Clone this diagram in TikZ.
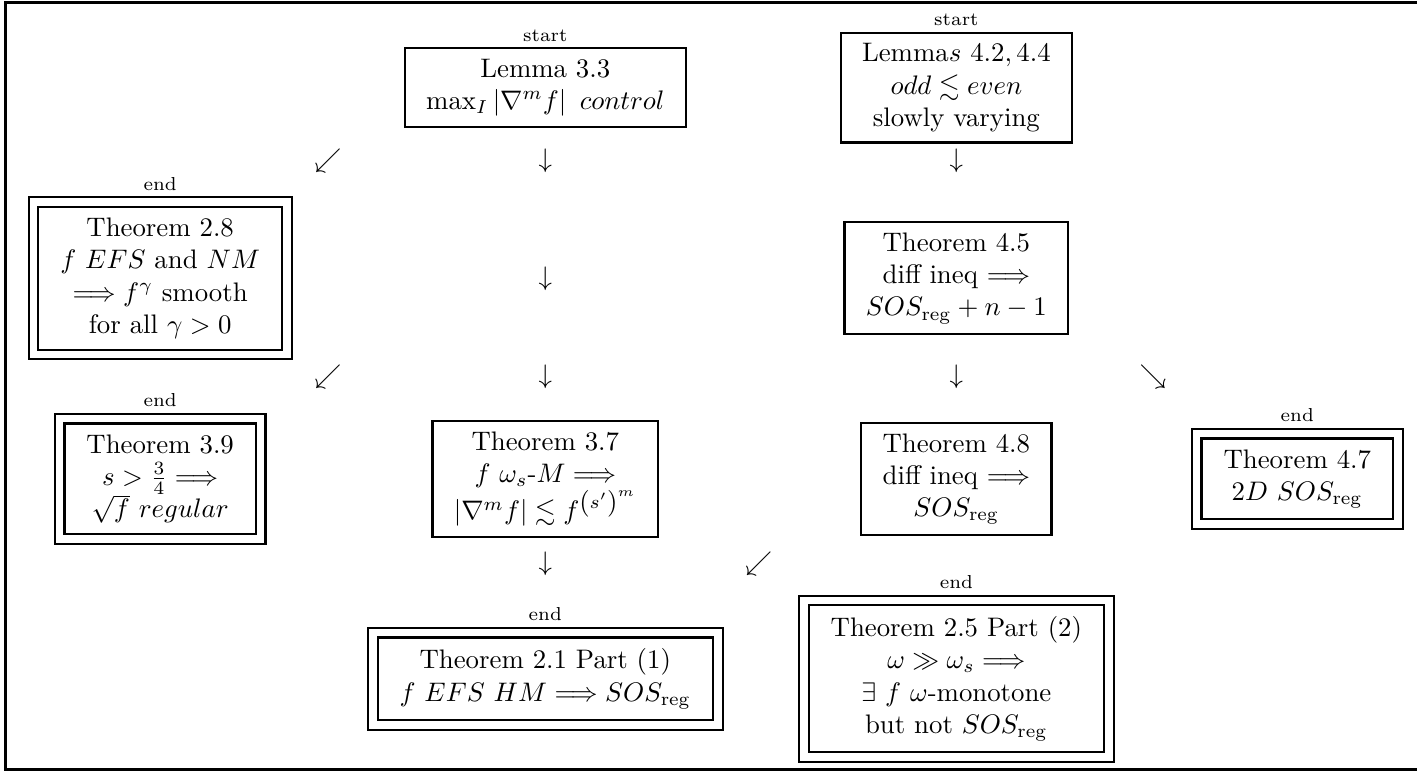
\documentclass[tikz,border=0pt]{standalone}
\usepackage{amsmath,amssymb}
\usetikzlibrary{positioning}

\begin{document}
\begin{tikzpicture}[
    result/.style={rectangle, draw=black, line width=0.8pt, align=center,
                 inner xsep=8pt, inner ysep=4pt},
    endresult/.style={rectangle, draw=black, line width=0.8pt, double,
                 double distance=2.8pt, outer sep=2.2pt, align=center,
                 inner xsep=10pt, inner ysep=6pt},
    tag/.style={font=\scriptsize, inner sep=1pt},
    glyph/.style={inner sep=0pt}
]
\useasboundingbox (0,0) rectangle (18.58,-10.11);
% frame, cut off at the right
\draw[line width=1.1pt] (18.8,-0.035) -- (0.07,-0.035) -- (0.07,-10.09) -- (18.8,-10.09);

% left branch
\node[result] (lem33) at (7.15,-1.15) {Lemma 3.3\\ $\max_I|\nabla^m f|\ \,control$};
\node[tag, above=1pt of lem33] (lem33tag) {start};
\node[endresult] (thm28) at (2.10,-3.65) {Theorem 2.8\\ $f$ $EFS$ and $NM$\\ $\Longrightarrow f^\gamma$ smooth\\ for all $\gamma>0$};
\node[tag, above=1pt of thm28] (thm28tag) {end};
\node[endresult] (thm39) at (2.10,-6.28) {Theorem 3.9\\ $s>\frac34\Longrightarrow$\\ $\sqrt f$ $regular$};
\node[tag, above=1pt of thm39] (thm39tag) {end};
\node[result] (thm37) at (7.15,-6.28) {Theorem 3.7\\ $f$ $\omega_s$-$M\Longrightarrow$\\ $|\nabla^m f|\lesssim f^{\left(s'\right)^m}$};
\node[endresult] (thm21) at (7.15,-8.90) {Theorem 2.1 Part (1)\\ $f$ $EFS$ $HM\Longrightarrow SOS_{\mathrm{reg}}$};
\node[tag, above=1pt of thm21] (thm21tag) {end};

% right branch
\node[result] (lem42) at (12.54,-1.15) {Lemma$s$ $4.2, 4.4$\\ $odd\lesssim even$\\ slowly varying};
\node[tag, above=1pt of lem42] (lem42tag) {start};
\node[result] (thm45) at (12.54,-3.65) {Theorem 4.5\\ diff ineq $\Longrightarrow$\\ $SOS_{\mathrm{reg}}+n-1$};
\node[result] (thm48) at (12.54,-6.28) {Theorem 4.8\\ diff ineq $\Longrightarrow$\\ $SOS_{\mathrm{reg}}$};
\node[endresult] (thm47) at (17.01,-6.28) {Theorem 4.7\\ $2D$ $SOS_{\mathrm{reg}}$};
\node[tag, above=1pt of thm47] (thm47tag) {end};
\node[endresult] (thm25) at (12.54,-8.90) {Theorem 2.5 Part (2)\\ $\omega\gg\omega_s\Longrightarrow$\\ $\exists$ $f$ $\omega$-monotone\\ but not $SOS_{\mathrm{reg}}$};
\node[tag, above=1pt of thm25] (thm25tag) {end};

% arrows
\node[glyph] (sw1) at (4.30,-2.11) {$\swarrow$};
\node[glyph] (dn1) at (7.15,-2.11) {$\downarrow$};
\node[glyph] (dn2) at (12.54,-2.11) {$\downarrow$};
\node[glyph] (dn3) at (7.15,-3.65) {$\downarrow$};
\node[glyph] (sw2) at (4.30,-4.94) {$\swarrow$};
\node[glyph] (dn4) at (7.15,-4.94) {$\downarrow$};
\node[glyph] (dn5) at (12.54,-4.94) {$\downarrow$};
\node[glyph] (se1) at (15.12,-4.94) {$\searrow$};
\node[glyph] (dn6) at (7.15,-7.39) {$\downarrow$};
\node[glyph] (sw3) at (9.95,-7.39) {$\swarrow$};
\end{tikzpicture}
\end{document}
